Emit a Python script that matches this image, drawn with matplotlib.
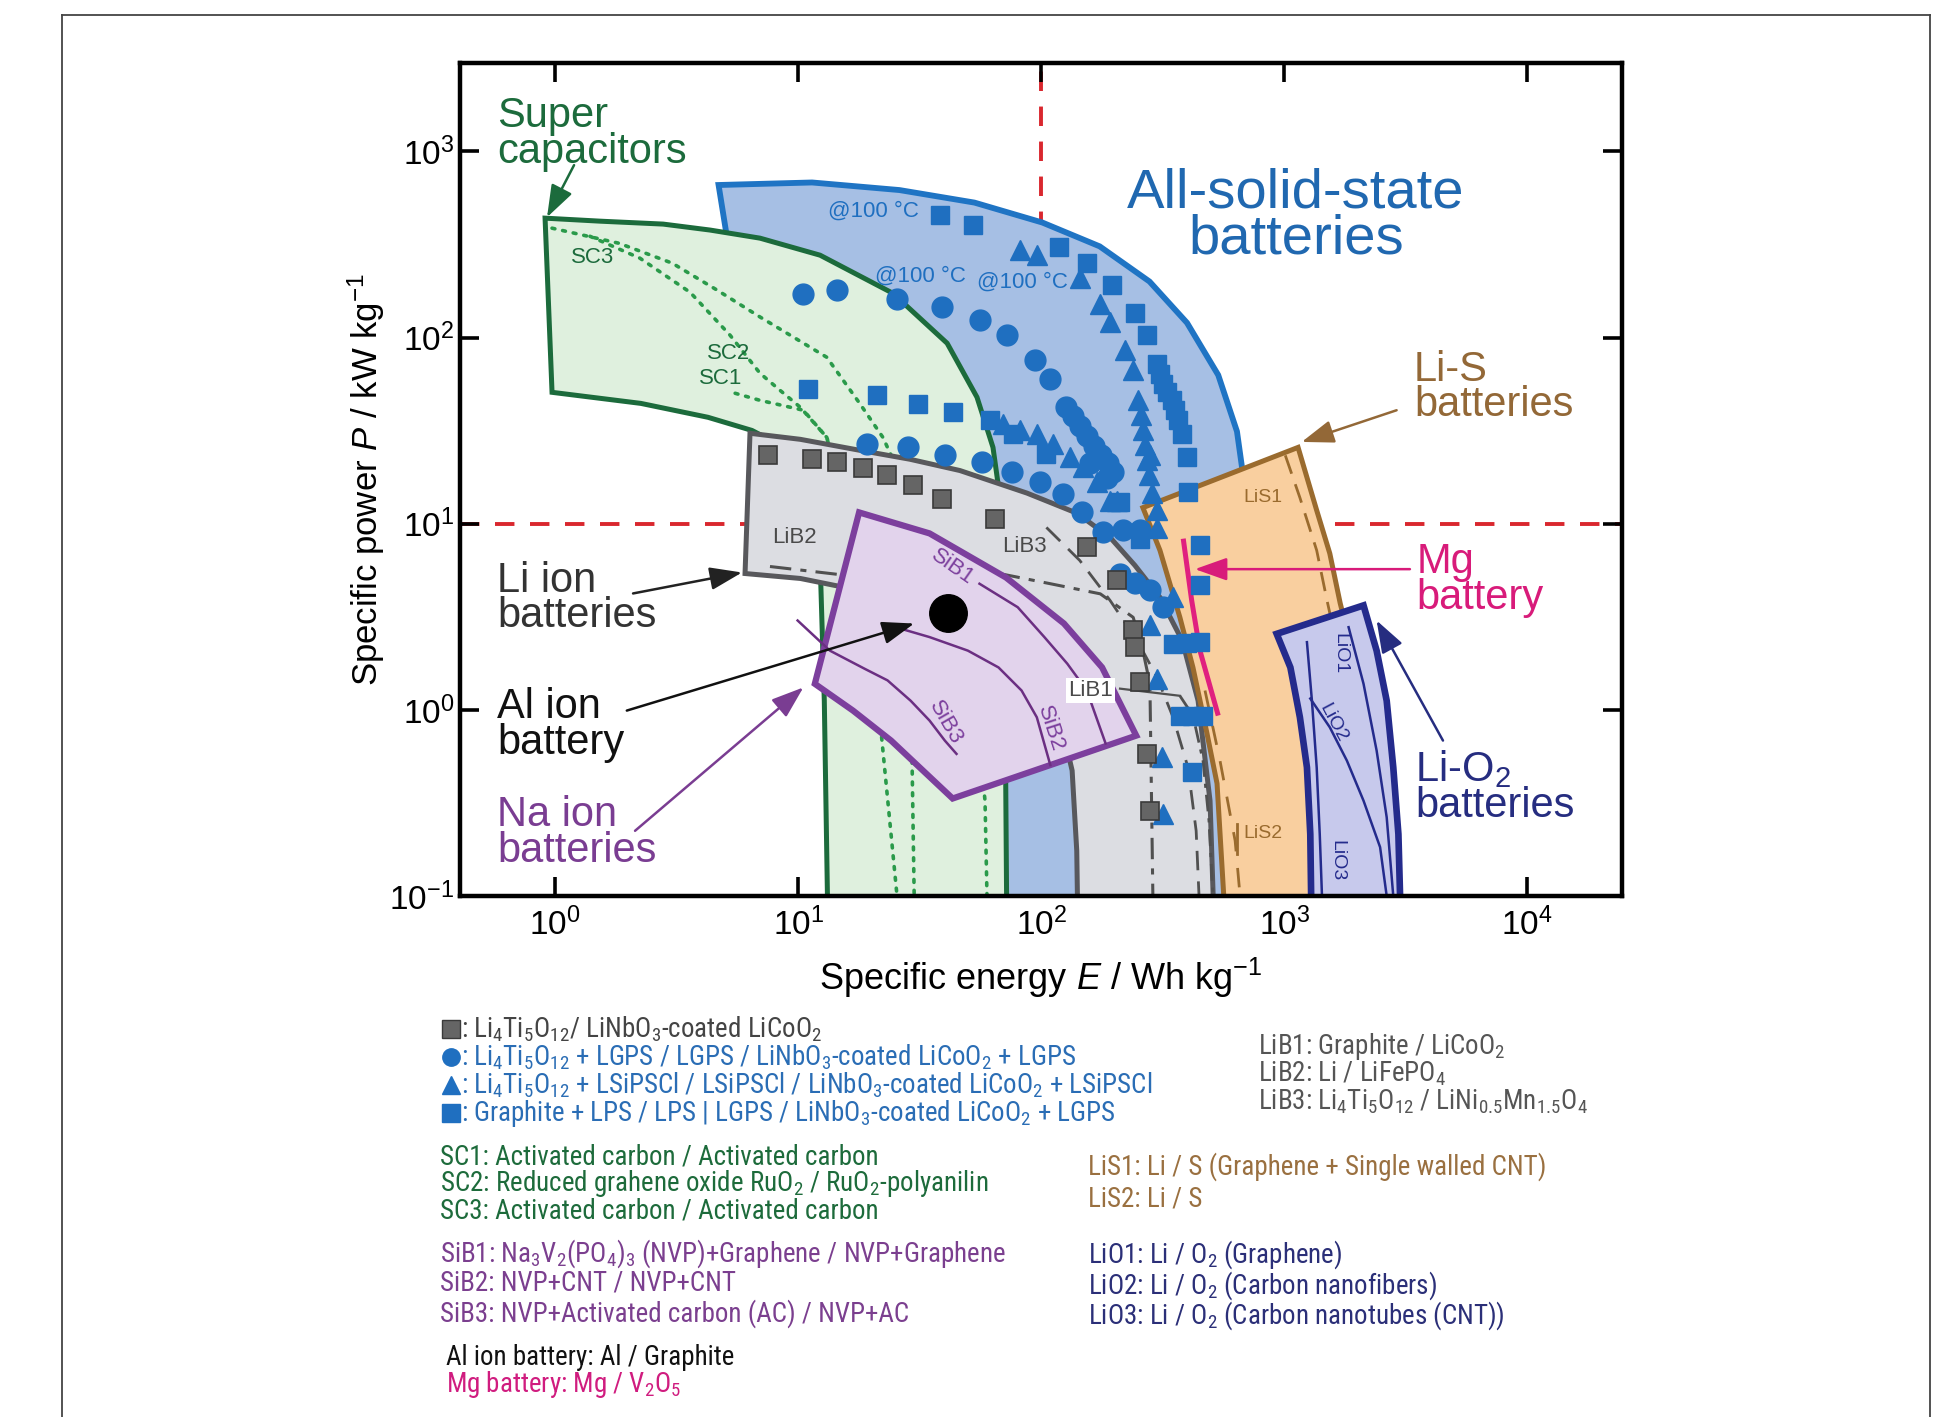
import numpy as np
import matplotlib
matplotlib.use('Agg')
import matplotlib.pyplot as plt
from matplotlib.patches import Polygon
from matplotlib.lines import Line2D
from matplotlib.ticker import FixedLocator, NullLocator
from matplotlib import font_manager as fm

# ------------------------------------------------------------------ data
# specific energy E (Wh/kg) / specific power P (kW/kg) outlines of regions
sc_outer_E = [0.908, 1.53, 2.78, 4.34, 6.96, 12.3, 24.5, 41.0, 54.4, 63.3, 67.0, 69.6, 71.0, 72.3]
sc_outer_P = [438, 422, 407, 378, 342, 277, 173, 93.2, 47.8, 25.7, 15.1, 6.35, 1.12, 0.05]
sc_inner_E = [0.97, 2.25, 4.25, 6.45, 9.25, 11.2, 12.3, 12.8, 13.3]
sc_inner_P = [50.8, 44.3, 37.3, 31.7, 24.8, 15.1, 6.35, 1.12, 0.05]

assb_outer_E = [4.70, 11.4, 26.1, 53.1, 101, 174, 279, 398, 535, 639, 694, 719, 758, 780]
assb_outer_P = [660, 681, 620, 531, 415, 309, 200, 120, 62.9, 31.3, 14.5, 5.29, 1.12, 0.05]
assb_inner_E = [5.05, 6.33, 16.3, 38.3, 53.4, 61.6, 64.5]
assb_inner_P = [368, 254, 159, 66.7, 24.8, 6.35, 0.05]

lib_outer_E = [6.33, 10.2, 17.9, 28.8, 46.3, 87.4, 140, 192, 243, 308, 380, 442, 495, 519]
lib_outer_P = [30.6, 28.4, 24.8, 22.2, 19.3, 14.6, 11.4, 8.44, 5.97, 4.02, 2.36, 1.12, 0.325, 0.05]
lib_inner_E = [6.04, 10.2, 17.9, 31.7, 56.0, 89.9, 120, 134, 140, 142]
lib_inner_P = [5.40, 5.08, 4.38, 3.42, 2.36, 1.44, 0.876, 0.472, 0.175, 0.05]

sib_E = [17.8, 34.7, 71.6, 124, 178, 246, 43.2, 24.1, 16.8, 11.7]
sib_P = [11.5, 8.87, 5.14, 2.91, 1.69, 0.727, 0.334, 0.684, 0.991, 1.38]

lis_E = [262, 1140, 1360, 1540, 1700, 1950, 2250, 2600, 2860, 582, 529, 481, 421, 372, 308]
lis_P = [12.2, 25.7, 11.8, 6.92, 3.73, 1.84, 0.684, 0.254, 0.05, 0.05, 0.402, 0.746, 1.69, 3.14, 7.19]

lio_E = [931, 2120, 2400, 2640, 2810, 2950, 3040, 1300, 1280, 1240, 1160, 1060]
lio_P = [2.56, 3.64, 2.08, 1.12, 0.491, 0.215, 0.05, 0.05, 0.215, 0.491, 0.912, 1.69]

# individual cell curves
sc1_E = [5.50, 6.96, 10.5, 13.1, 17.9, 21.7, 25.5]
sc1_P = [50.2, 46.0, 40.7, 29.1, 6.35, 0.876, 0.1]
sc2_E = [1.39, 2.23, 3.59, 5.24, 6.96, 8.41, 10.2, 13.1, 19.8, 26.2, 29.4, 30.0]
sc2_P = [350, 267, 175, 103, 64.3, 52.1, 42.2, 29.1, 6.35, 1.44, 0.534, 0.1]
sc3_E = [0.97, 1.83, 3.03, 4.63, 6.96, 13.1, 17.9, 22.3, 34.9, 48.6, 56.0, 58.7, 59.8]
sc3_P = [387, 321, 251, 180, 129, 78.4, 44.3, 29.1, 8.13, 2.08, 0.604, 0.325, 0.1]

lib1_E = [211, 372, 421, 463, 490, 509]
lib1_P = [1.30, 1.19, 0.932, 0.534, 0.254, 0.1]
lib2_E = [7.65, 14.6, 67.7, 109, 175, 239, 262, 280, 288]
lib2_P = [5.89, 5.34, 5.39, 4.76, 4.20, 3.14, 2.08, 1.38, 0.1]
lib3_E = [105, 144, 192, 248, 300, 349, 402, 434, 446]
lib3_P = [9.55, 6.35, 3.87, 2.36, 1.49, 0.909, 0.489, 0.224, 0.1]

sib1_E = [55.7, 80.0, 103, 128, 154, 184]
sib1_P = [4.76, 3.56, 2.46, 1.77, 1.27, 0.66]
sib2_E = [22.5, 34.7, 49.9, 66.7, 83.0, 95.9, 109]
sib2_P = [2.90, 2.46, 2.08, 1.69, 1.27, 0.912, 0.505]
sib3_E = [9.94, 13.5, 18.8, 23.3, 29.0, 34.7, 40.1, 44.8]
sib3_P = [3.02, 2.08, 1.66, 1.44, 1.12, 0.876, 0.684, 0.580]

lis1_E = [1010, 1160, 1360, 1500, 1700]
lis1_P = [23.3, 13.8, 7.19, 3.87, 1.84]
lis2_E = [472, 544, 628, 658]
lis2_P = [1.27, 0.534, 0.198, 0.1]

lio1_E = [1840, 2120, 2400, 2640, 2810]
lio1_P = [2.78, 1.38, 0.604, 0.265, 0.1]
lio2_E = [1280, 1540, 1810, 2120, 2480, 2640]
lio2_P = [1.15, 0.806, 0.534, 0.325, 0.183, 0.1]
lio3_E = [1240, 1300, 1360, 1400, 1430]
lio3_P = [2.31, 1.12, 0.491, 0.215, 0.1]

mg_E = [384, 416, 450, 535]
mg_P = [8.31, 3.87, 2.08, 0.932]

al_E = [41.4]
al_P = [3.31]

# all-solid-state data points
gray_sq_E = [7.53, 11.4, 14.4, 18.5, 23.1, 29.8, 38.9, 64.5, 154, 205, 239, 243, 255, 272, 280]
gray_sq_P = [23.3, 22.4, 21.4, 19.8, 18.2, 16.1, 13.6, 10.6, 7.49, 4.96, 2.67, 2.17, 1.41, 0.580, 0.287]

circ_E = [10.5, 14.4, 25.4, 38.9, 56.0, 72.1, 94.3, 109, 127, 135, 144, 154, 165, 176, 188, 198,
          19.1, 28.4, 40.2, 56.9, 75.6, 98.9, 123, 147, 180, 218, 255, 159, 186, 211, 243, 280, 318]
circ_P = [172, 180, 162, 146, 124, 103, 75.5, 60.2, 42.4, 37.8, 33.4, 29.5, 26.0, 23.3, 21.1, 18.9,
          26.9, 25.8, 23.3, 21.4, 18.9, 16.7, 14.5, 11.5, 8.98, 9.20, 9.20, 21.1, 17.5, 5.39, 4.78, 4.38, 3.56]

tri_E = [81.8, 95.8, 144, 175, 192, 221, 239, 251, 257, 262, 267, 272, 278, 286, 299, 300,
         69.8, 81.8, 95.8, 112, 131, 149, 169, 192, 205, 280, 299, 313, 318, 350, 280]
tri_P = [295, 277, 208, 152, 121, 85.4, 66.7, 46.0, 38.2, 31.7, 26.4, 21.9, 18.2, 14.7, 11.8, 9.43,
         34.5, 31.7, 30.5, 26.9, 22.8, 20.2, 16.7, 13.3, 13.3, 2.84, 1.47, 0.556, 0.276, 4.03, 23.3]

sq_E = [38.3, 52.6, 118, 154, 195, 243, 272, 299, 308, 318, 329, 344, 355, 367, 379,
        397, 403, 450, 450, 350, 398, 450, 372, 416, 465, 416,
        11.0, 21.0, 31.2, 43.5, 61.6, 76.8, 105, 211, 255]
sq_P = [454, 402, 307, 250, 191, 135, 103, 72.5, 64.0, 56.6, 51.0, 46.0, 40.7, 35.9, 30.5,
        22.8, 14.8, 7.64, 4.66, 2.26, 2.28, 2.31, 0.932, 0.932, 0.932, 0.462,
        53.2, 49.0, 44.2, 39.8, 35.9, 30.5, 23.8, 13.1, 8.31]

x_ticks = [1, 10, 100, 1000, 10000]
y_ticks = [0.1, 1, 10, 100, 1000]

# ------------------------------------------------------------------ style
plt.rcParams['font.family'] = ['Liberation Sans', 'DejaVu Sans']
plt.rcParams['mathtext.fontset'] = 'custom'
plt.rcParams['mathtext.rm'] = 'Liberation Sans'
plt.rcParams['mathtext.it'] = 'Liberation Sans:italic'
plt.rcParams['mathtext.default'] = 'regular'

names = {f.name for f in fm.fontManager.ttflist}
LEG_FAM = next(c for c in ['Liberation Sans Narrow', 'Arial Narrow', 'Roboto Condensed',
                           'Liberation Sans'] if c in names or c == 'Liberation Sans')

C_SC_F, C_SC_E = '#dff0de', '#1c6b3c'
C_AS_F, C_AS_E = '#a6bfe4', '#1f74c4'
C_LB_F, C_LB_E = '#dcdde2', '#58585c'
C_SB_F, C_SB_E = '#e2d3ec', '#7c3f9d'
C_LS_F, C_LS_E = '#f9cf9f', '#9a6b2e'
C_LO_F, C_LO_E = '#c7c9ec', '#242b8c'
C_MG = '#e0207f'
C_BLUE = '#1f6fc0'
C_RED = '#d9272e'

W, H = 1959, 1417
fig = plt.figure(figsize=(W / 100, H / 100), dpi=100)
fig.patch.set_facecolor('white')
ax = fig.add_axes([460 / W, 1 - 896 / H, (1622 - 460) / W, (896 - 63) / H])
ax.set_xscale('log')
ax.set_yscale('log')


def band(Eo, Po, Ei, Pi):
    return np.column_stack([list(Eo) + list(Ei)[::-1], list(Po) + list(Pi)[::-1]])


# reference lines
ax.axhline(10, color=C_RED, lw=2.8, dashes=(5, 4), zorder=1)
ax.axvline(100, color=C_RED, lw=2.8, dashes=(5, 4), zorder=1)

# regions
ax.add_patch(Polygon(band(assb_outer_E, assb_outer_P, assb_inner_E, assb_inner_P),
                     closed=True, fc=C_AS_F, ec=C_AS_E, lw=4.2, zorder=2))
ax.add_patch(Polygon(band(sc_outer_E, sc_outer_P, sc_inner_E, sc_inner_P),
                     closed=True, fc=C_SC_F, ec=C_SC_E, lw=3.6, zorder=3))
for e, p in [(sc1_E, sc1_P), (sc2_E, sc2_P), (sc3_E, sc3_P)]:
    ax.plot(e, p, color='#2a9a4a', lw=2.6, ls=(0, (0.8, 2.2)), dash_capstyle='round', zorder=3.1)

ax.add_patch(Polygon(band(lib_outer_E, lib_outer_P, lib_inner_E, lib_inner_P),
                     closed=True, fc=C_LB_F, ec=C_LB_E, lw=3.6, zorder=4))
ax.plot(lib1_E[:2], lib1_P[:2], color='#505050', lw=1.6, zorder=4.1)
ax.plot(lib1_E[1:], lib1_P[1:], color='#505050', lw=2.0, ls=(0, (6, 2.5, 1.5, 2.5)), zorder=4.1)
ax.plot(lib2_E, lib2_P, color='#505050', lw=2.2, ls=(0, (7, 3, 2, 3)), zorder=4.1)
ax.plot(lib3_E, lib3_P, color='#505050', lw=2.0, ls=(0, (7, 4)), zorder=4.1)

ax.add_patch(Polygon(np.column_stack([sib_E, sib_P]), closed=True,
                     fc=C_SB_F, ec=C_SB_E, lw=4.5, zorder=5))
for e, p in [(sib1_E, sib1_P), (sib2_E, sib2_P), (sib3_E, sib3_P)]:
    ax.plot(e, p, color='#6b2f82', lw=1.8, zorder=5.1)
ax.plot(al_E, al_P, ls='none', marker='o', ms=27, color='black', zorder=5.2)

ax.add_patch(Polygon(np.column_stack([lis_E, lis_P]), closed=True,
                     fc=C_LS_F, ec=C_LS_E, lw=3.6, zorder=6))
ax.plot(lis1_E, lis1_P, color=C_LS_E, lw=2.0, ls=(0, (7, 4)), zorder=6.1)
ax.plot(lis2_E, lis2_P, color=C_LS_E, lw=2.0, ls=(0, (7, 6)), zorder=6.1)

ax.add_patch(Polygon(np.column_stack([lio_E, lio_P]), closed=True,
                     fc=C_LO_F, ec=C_LO_E, lw=4.8, zorder=7))
for e, p in [(lio1_E, lio1_P), (lio2_E, lio2_P), (lio3_E, lio3_P)]:
    ax.plot(e, p, color=C_LO_E, lw=1.8, zorder=7.1)

ax.plot(mg_E, mg_P, color=C_MG, lw=3.6, solid_capstyle='butt', zorder=8)

# data markers
ax.plot(circ_E, circ_P, ls='none', marker='o', ms=15, mfc=C_BLUE, mec=C_BLUE, zorder=9)
ax.plot(tri_E, tri_P, ls='none', marker='^', ms=14, mfc=C_BLUE, mec=C_BLUE, zorder=9)
ax.plot(sq_E, sq_P, ls='none', marker='s', ms=13, mfc=C_BLUE, mec=C_BLUE, zorder=9)
ax.plot(gray_sq_E, gray_sq_P, ls='none', marker='s', ms=13, mfc='#656565', mec='#3a3a3a',
        mew=1.2, zorder=9)

# axes formatting
ax.set_xlim(10 ** -0.392, 10 ** 4.39)
ax.set_ylim(0.1, 10 ** 3.475)
ax.xaxis.set_major_locator(FixedLocator(x_ticks))
ax.yaxis.set_major_locator(FixedLocator(y_ticks))
ax.xaxis.set_minor_locator(NullLocator())
ax.yaxis.set_minor_locator(NullLocator())
ax.tick_params(which='major', direction='in', length=14, width=2.6, top=True, right=True,
               labelsize=24, colors='black')
ax.tick_params(axis='x', pad=8)
ax.tick_params(axis='y', pad=4)
for s in ax.spines.values():
    s.set_linewidth(3.2)
    s.set_zorder(20)
ax.set_xlabel(r'Specific energy $\it{E}$ / Wh kg$^{-1}$', fontsize=26)
ax.set_ylabel(r'Specific power $\it{P}$ / kW kg$^{-1}$', fontsize=25)
ax.xaxis.set_label_coords(0.5, -0.072)
ax.yaxis.set_label_coords(-0.063, 0.5)

# in-plot labels
small = dict(fontsize=16, zorder=10)
ax.text(1.42, 269, 'SC3', color=C_SC_E, ha='center', va='center', **small)
ax.text(5.16, 81.7, 'SC2', color=C_SC_E, ha='center', va='center', **small)
ax.text(4.81, 60.0, 'SC1', color=C_SC_E, ha='center', va='center', **small)
for (e, p) in [(13.3, 478), (20.7, 214), (54.4, 198)]:
    ax.text(e, p, '@100 °C', color=C_BLUE, ha='left', va='center', **small)
ax.text(9.67, 8.42, 'LiB2', color='#4a4a4a', ha='center', va='center', **small)
ax.text(85.4, 7.55, 'LiB3', color='#4a4a4a', ha='center', va='center', **small)
ax.text(159, 1.27, 'LiB1', color='#4a4a4a', ha='center', va='center',
        bbox=dict(fc='white', ec='none', pad=1.5), **small)
ax.text(43.2, 5.84, 'SiB1', color=C_SB_E, ha='center', va='center', rotation=-35, **small)
ax.text(40.2, 0.855, 'SiB3', color=C_SB_E, ha='center', va='center', rotation=-60, **small)
ax.text(109, 0.794, 'SiB2', color=C_SB_E, ha='center', va='center', rotation=-72, **small)
ax.text(818, 13.8, 'LiS1', color=C_LS_E, ha='center', va='center', fontsize=14, zorder=10)
ax.text(818, 0.216, 'LiS2', color=C_LS_E, ha='center', va='center', fontsize=14, zorder=10)
ax.plot([637, 637], [0.245, 0.169], color=C_LS_E, lw=2.0, zorder=10)
ax.text(1700, 2.01, 'LiO1', color=C_LO_E, ha='center', va='center', rotation=-90, fontsize=14, zorder=10)
ax.text(1590, 0.844, 'LiO2', color=C_LO_E, ha='center', va='center', rotation=-62, fontsize=14, zorder=10)
ax.text(1640, 0.155, 'LiO3', color=C_LO_E, ha='center', va='center', rotation=-90, fontsize=14, zorder=10)

big = dict(fontsize=30, va='baseline', zorder=10, linespacing=0.86)
ax.text(0.576, 865, 'Super\ncapacitors', color=C_SC_E, ha='left', **big)
ax.text(1119, 284, 'All-solid-state\nbatteries', color='#2068b0', ha='center',
        fontsize=40.5, va='baseline', zorder=10, linespacing=0.85)
ax.text(3420, 37.8, 'Li-S\nbatteries', color='#936837', ha='left', **big)
ax.text(3510, 3.50, 'Mg\nbattery', color='#d81b7a', ha='left', **big)
ax.text(3450, 0.265, 'Li-O$_2$\nbatteries', color='#262d80', ha='left', **big)
ax.text(0.576, 2.77, 'Li ion\nbatteries', color='#333333', ha='left', **big)
ax.text(0.576, 0.582, 'Al ion\nbattery', color='#111111', ha='left', **big)
ax.text(0.576, 0.152, 'Na ion\nbatteries', color='#7a3d92', ha='left', **big)


def arrow(tail, head, color):
    ax.annotate('', xy=head, xytext=tail, zorder=10,
                arrowprops=dict(arrowstyle='-|>,head_length=0.9,head_width=0.32', color=color,
                                lw=1.8, mutation_scale=22, shrinkA=0, shrinkB=0))


arrow((1.195, 844), (0.925, 443), C_SC_E)
arrow((2900, 40.7), (1180, 27.5), '#936837')
arrow((3290, 5.7), (429, 5.7), '#d81b7a')
arrow((4500, 0.684), (2400, 3.02), '#262d80')
arrow((2.09, 4.22), (5.87, 5.47), '#222222')
arrow((1.97, 0.991), (30.0, 2.91), '#111111')
arrow((2.13, 0.224), (10.5, 1.32), '#7a3d92')

# outer frame of the figure
for xs, ys in [([62, 62], [15, 1417]), ([62, 1930], [15, 15]), ([1930, 1930], [15, 1417])]:
    fig.add_artist(Line2D([x / W for x in xs], [1 - y / H for y in ys], transform=fig.transFigure,
                          color='#444444', lw=1.3))

# ------------------------------------------------------------------ legend text
LINE2 = r': Li$_4$Ti$_5$O$_{12}$ + LGPS / LGPS / LiNbO$_3$-coated LiCoO$_2$ + LGPS'
probe = fig.text(0, 0, LINE2, fontsize=20, family=LEG_FAM)
w_probe = probe.get_window_extent(fig.canvas.get_renderer()).width
probe.remove()
LEG_SIZE = 20 * 615.0 / w_probe


def ftext(x, y, s, color):
    fig.text(x / W, 1 - y / H, s, color=color, fontsize=LEG_SIZE, family=LEG_FAM,
             ha='left', va='baseline')


def fmark(x, y, marker, fc, ec):
    fig.add_artist(Line2D([x / W], [1 - y / H], transform=fig.transFigure, ls='none',
                          marker=marker, ms=12.5, mfc=fc, mec=ec))


fmark(451, 1029, 's', '#656565', '#3a3a3a')
fmark(451, 1057, 'o', C_BLUE, C_BLUE)
fmark(451, 1085, '^', C_BLUE, C_BLUE)
fmark(451, 1113, 's', C_BLUE, C_BLUE)
ftext(461, 1037, r': Li$_4$Ti$_5$O$_{12}$/ LiNbO$_3$-coated LiCoO$_2$', '#444444')
ftext(461, 1065, LINE2, '#2a6db5')
ftext(461, 1093, r': Li$_4$Ti$_5$O$_{12}$ + LSiPSCl / LSiPSCl / LiNbO$_3$-coated LiCoO$_2$ + LSiPSCl', '#2a6db5')
ftext(461, 1121, r': Graphite + LPS / LPS | LGPS / LiNbO$_3$-coated LiCoO$_2$ + LGPS', '#2a6db5')

ftext(1258, 1054, r'LiB1: Graphite / LiCoO$_2$', '#555555')
ftext(1258, 1082, r'LiB2: Li / LiFePO$_4$', '#555555')
ftext(1258, 1110, r'LiB3: Li$_4$Ti$_5$O$_{12}$ / LiNi$_{0.5}$Mn$_{1.5}$O$_4$', '#555555')

ftext(440, 1164, 'SC1: Activated carbon / Activated carbon', '#1d6b3b')
ftext(440, 1191, r'SC2: Reduced grahene oxide RuO$_2$ / RuO$_2$-polyanilin', '#1d6b3b')
ftext(440, 1218, 'SC3: Activated carbon / Activated carbon', '#1d6b3b')

ftext(1088, 1175, 'LiS1: Li / S (Graphene + Single walled CNT)', '#9a7040')
ftext(1088, 1206, 'LiS2: Li / S', '#9a7040')

ftext(440, 1262, r'SiB1: Na$_3$V$_2$(PO$_4$)$_3$ (NVP)+Graphene / NVP+Graphene', '#7b3f8f')
ftext(440, 1291, 'SiB2: NVP+CNT / NVP+CNT', '#7b3f8f')
ftext(440, 1322, 'SiB3: NVP+Activated carbon (AC) / NVP+AC', '#7b3f8f')

ftext(1088, 1263, r'LiO1: Li / O$_2$ (Graphene)', '#2b2f78')
ftext(1088, 1294, r'LiO2: Li / O$_2$ (Carbon nanofibers)', '#2b2f78')
ftext(1088, 1324, r'LiO3: Li / O$_2$ (Carbon nanotubes (CNT))', '#2b2f78')

ftext(446, 1365, 'Al ion battery: Al / Graphite', '#111111')
ftext(446, 1392, r'Mg battery: Mg / V$_2$O$_5$', '#d01c7f')

fig.savefig('out.png', dpi=100, facecolor='white')
